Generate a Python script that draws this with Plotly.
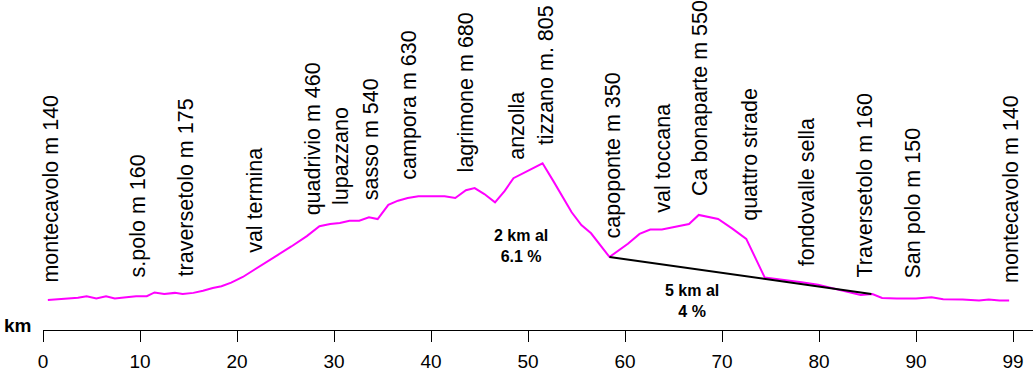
import plotly.graph_objects as go

# Elevation profile (km, metres)
km = [0.5, 3.6, 4.5, 5.5, 6.5, 7.4, 8.6, 9.6, 10.7, 11.5, 12.5, 13.6, 14.4, 15.5, 16.5,
      17.5, 18.4, 19.4, 20.6, 22.7, 24.1, 25.6, 27.2, 28.5, 29.6, 30.6, 31.6, 32.6, 33.6,
      34.5, 35.6, 36.6, 37.6, 38.7, 41.4, 42.5, 43.6, 44.5, 45.5, 46.6, 47.6, 48.5, 50.5,
      51.5, 52.6, 54.5, 55.5, 56.5, 58.4, 60.3, 61.5, 62.6, 63.8, 65.5, 66.6, 67.6, 69.6,
      71.1, 72.5, 74.4, 76.4, 78.2, 79.9, 81.4, 82.9, 84.3, 85.5, 86.5, 88.0, 90.0, 91.6,
      92.8, 94.8, 96.5, 97.5, 98.6, 99.6]
elev = [145, 156, 164, 153, 164, 153, 159, 164, 164, 182, 175, 180, 175, 180, 190,
        204, 212, 230, 257, 321, 361, 405, 455, 503, 514, 519, 530, 530, 546,
        538, 607, 627, 640, 649, 649, 640, 678, 688, 659, 619, 675, 736, 784,
        808, 723, 571, 509, 469, 354, 418, 466, 487, 487, 503, 514, 558, 538,
        490, 442, 255, 244, 232, 219, 203, 185, 170, 174, 155, 153, 153, 159,
        149, 148, 143, 148, 143, 143]

# Trend line (capoponte -> Traversetolo)
trend_km = [58.4, 85.4]
trend_elev = [354, 175]

# Place names
places = ["montecavolo m 140", "s.polo m 160", "traversetolo m 175", "val termina",
          "quadrivio m 460", "lupazzano", "sasso m 540", "campora m 630",
          "lagrimone m 680", "anzolla", "tizzano m. 805", "capoponte m 350",
          "val toccana", "Ca bonaparte m 550", "quattro strade", "fondovalle sella",
          "Traversetolo m 160", "San polo m 150", "montecavolo m 140"]
place_km = [0.8, 9.8, 14.7, 21.9, 27.8, 30.8, 33.8, 37.7, 43.7, 48.9, 51.8, 58.8,
            63.9, 67.8, 72.9, 78.8, 84.7, 89.7, 99.8]
label_base = [219, 243, 248, 364, 547, 595, 619, 720, 754, 817, 889, 436,
              561, 638, 518, 301, 243, 238, 219]

# Axis ticks
tick_vals = [0, 10, 20, 30, 40, 50, 60, 70, 80, 90, 100]
tick_text = ["0", "10", "20", "30", "40", "50", "60", "70", "80", "90", "99"]

FONT = "Liberation Sans, Arial, sans-serif"

fig = go.Figure()
fig.add_trace(go.Scatter(x=km, y=elev, mode="lines",
                         line=dict(color="#FF00FF", width=2), hoverinfo="skip"))
fig.add_trace(go.Scatter(x=trend_km, y=trend_elev, mode="lines",
                         line=dict(color="black", width=2), hoverinfo="skip"))

annotations = []
for name, xk, yb in zip(places, place_km, label_base):
    annotations.append(dict(x=xk, y=yb, xref="x", yref="y", text=name,
                            textangle=-90, showarrow=False, xanchor="center",
                            yanchor="bottom", font=dict(family=FONT, size=21.5, color="black")))

annotations.append(dict(x=49.26, y=405, xref="x", yref="y",
                        text="<b>2 km al<br>6.1 %</b>", showarrow=False,
                        xanchor="center", yanchor="middle", align="center",
                        font=dict(family=FONT, size=16, color="black")))
annotations.append(dict(x=66.9, y=140, xref="x", yref="y",
                        text="<b>5 km al<br>4 %</b>", showarrow=False,
                        xanchor="center", yanchor="middle", align="center",
                        font=dict(family=FONT, size=16, color="black")))
annotations.append(dict(x=-0.026, y=0.015, xref="paper", yref="paper",
                        text="<b>km</b>", showarrow=False,
                        xanchor="center", yanchor="middle",
                        font=dict(family=FONT, size=19, color="black")))

fig.update_layout(
    width=1033, height=372,
    margin=dict(l=43, r=0, t=0, b=40),
    paper_bgcolor="white", plot_bgcolor="white",
    showlegend=False,
    annotations=annotations,
    xaxis=dict(range=[0, 102.06], tickvals=tick_vals, ticktext=tick_text,
               showgrid=False, zeroline=False, showline=True, linecolor="black",
               linewidth=1, ticks="outside", ticklen=11, tickcolor="black",
               tickwidth=1, tickfont=dict(family=FONT, size=19, color="black"),
               ticklabelstandoff=3),
    yaxis=dict(range=[0, 1600], visible=False, showgrid=False, zeroline=False),
)

fig.write_html("out.html", config={"displayModeBar": False},
               post_script="document.body.style.margin='0px';")
